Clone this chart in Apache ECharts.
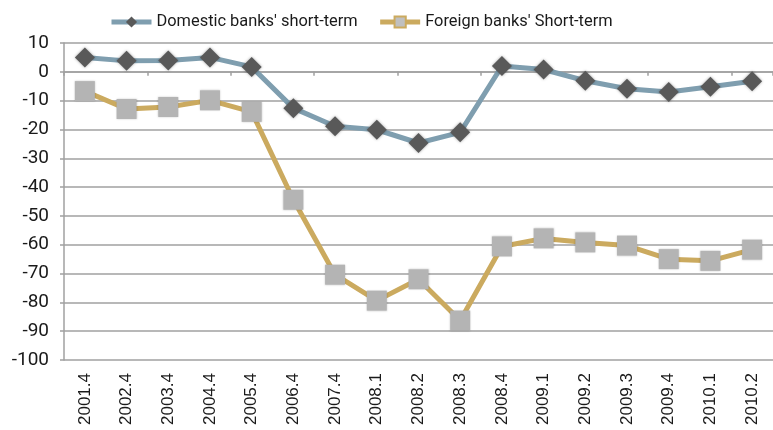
<!DOCTYPE html>
<html>
<head>
<meta charset="utf-8">
<script src="https://cdn.jsdelivr.net/npm/echarts@6/dist/echarts.min.js"></script>
<style>html,body{margin:0;padding:0;background:#fff;}#c{width:773px;height:430px;}</style>
</head>
<body>
<div id="c"></div>
<script>
var categories = ['2001.4','2002.4','2003.4','2004.4','2005.4','2006.4','2007.4','2008.1','2008.2','2008.3','2008.4','2009.1','2009.2','2009.3','2009.4','2010.1','2010.2'];
var domestic = [5.0, 3.8, 3.9, 5.0, 1.7, -12.6, -18.9, -20.1, -24.7, -21.0, 2.0, 0.8, -3.1, -5.9, -7.0, -5.2, -3.3];
var foreign = [-6.7, -12.9, -12.2, -9.9, -13.9, -44.4, -70.4, -79.4, -72.0, -86.3, -60.6, -57.8, -59.2, -60.3, -65.0, -65.6, -61.7];
var yTicks = {min: -100, max: 10, step: 10};

var din = 'Roboto, "Liberation Sans", sans-serif';
var chart = echarts.init(document.getElementById('c'), null, {renderer: 'canvas'});
chart.setOption({
  animation: false,
  backgroundColor: '#ffffff',
  grid: {left: 64, right: -7, top: 43, bottom: 70, containLabel: false},
  legend: {
    left: 109, top: 14, padding: 0,
    itemWidth: 40, itemHeight: 14, itemGap: 20,
    textStyle: {fontFamily: din, fontSize: 16.4, color: '#1a1a1a'},
    data: [
      {name: "Domestic banks' short-term", lineStyle: {width: 5}},
      {name: "Foreign banks' Short-term", lineStyle: {width: 5}, itemStyle: {color: '#c0c0c0', borderColor: '#cbaa5f', borderWidth: 2}}
    ]
  },
  xAxis: [
    {
      type: 'category', data: categories, position: 'bottom', boundaryGap: true,
      axisLine: {show: true, onZero: true, lineStyle: {color: '#a0a0a0', width: 1.5}},
      axisTick: {show: true, length: 4, lineStyle: {color: '#a0a0a0', width: 1.5}},
      axisLabel: {show: false},
      splitLine: {show: false}
    },
    {
      type: 'category', data: categories, position: 'bottom', boundaryGap: true,
      axisLine: {show: false, onZero: false},
      axisTick: {show: false},
      axisLabel: {show: true, rotate: 90, margin: 13, fontFamily: '"Liberation Sans", Arial, sans-serif', fontSize: 17, color: '#1a1a1a'},
      splitLine: {show: false}
    }
  ],
  yAxis: {
    type: 'value', min: yTicks.min, max: yTicks.max, interval: yTicks.step,
    axisLine: {show: true, lineStyle: {color: '#a0a0a0', width: 1.5}},
    axisTick: {show: true, length: 4, inside: false, lineStyle: {color: '#a0a0a0', width: 1.5}},
    axisLabel: {margin: 15, fontFamily: din, fontSize: 19, color: '#1a1a1a'},
    splitLine: {show: true, lineStyle: {color: '#a0a0a0', width: 1.5}}
  },
  series: [
    {
      name: "Domestic banks' short-term", type: 'line', data: domestic, xAxisIndex: 0,
      symbol: 'diamond', symbolSize: 20,
      lineStyle: {color: '#7f9eaf', width: 5},
      itemStyle: {color: '#595959', shadowBlur: 3, shadowColor: 'rgba(0,0,0,0.35)'},
      z: 3
    },
    {
      name: "Foreign banks' Short-term", type: 'line', data: foreign, xAxisIndex: 0,
      symbol: 'rect', symbolSize: 20,
      lineStyle: {color: '#cbaa5f', width: 5},
      itemStyle: {color: '#b4b4b4', shadowBlur: 2, shadowColor: 'rgba(0,0,0,0.2)'},
      z: 4
    }
  ]
});
</script>
</body>
</html>
